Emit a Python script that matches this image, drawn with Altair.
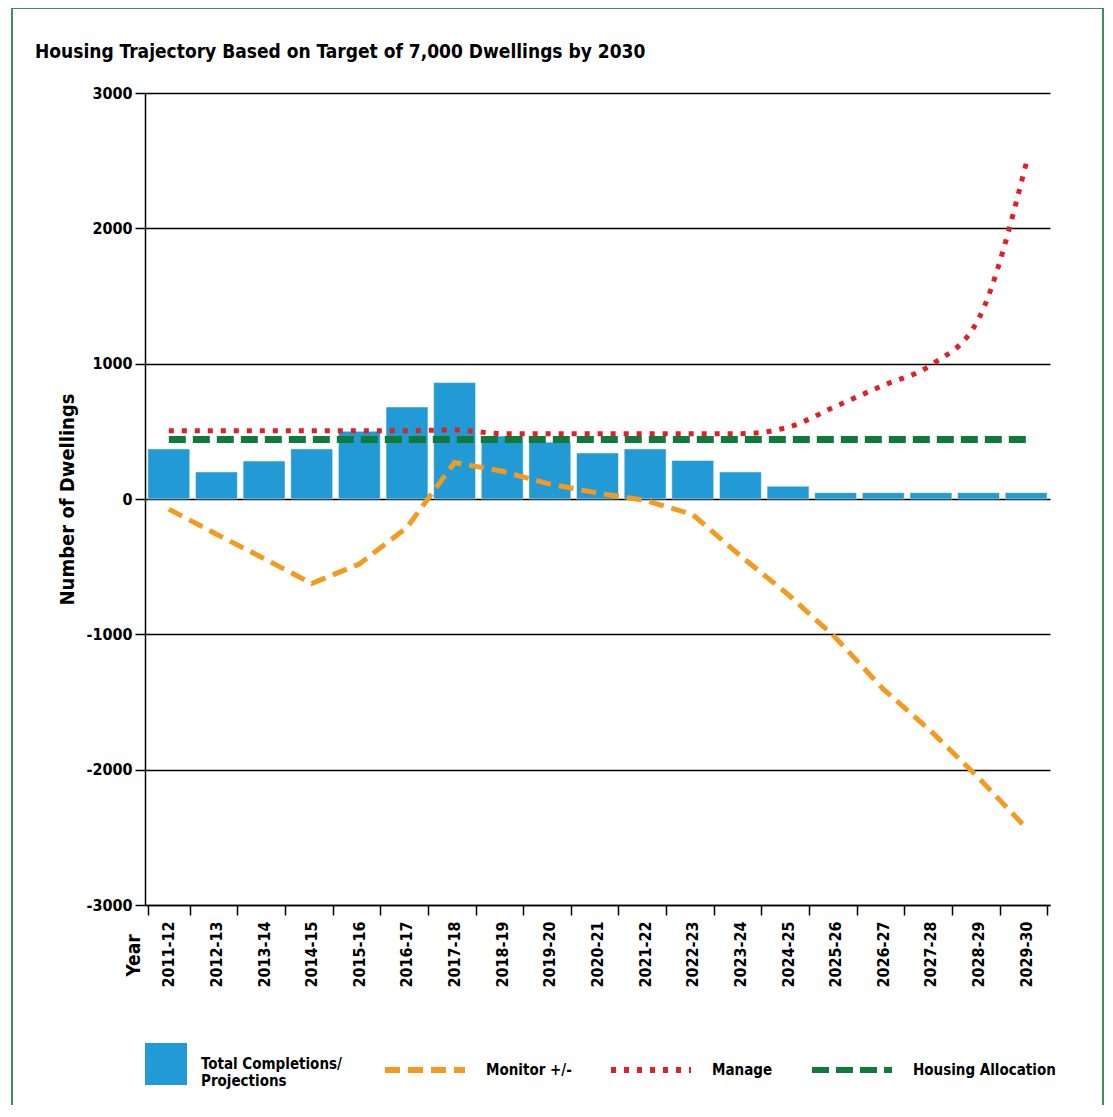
import altair as alt
import pandas as pd

years = ["2011-12", "2012-13", "2013-14", "2014-15", "2015-16", "2016-17", "2017-18",
         "2018-19", "2019-20", "2020-21", "2021-22", "2022-23", "2023-24", "2024-25",
         "2025-26", "2026-27", "2027-28", "2028-29", "2029-30"]
completions = [370, 200, 280, 370, 500, 680, 860, 465, 420, 340, 370, 285, 200, 95,
               47, 47, 47, 47, 47]
monitor = [-75, -260, -440, -625, -480, -210, 270, 205, 110, 45, -10, -115, -420, -705,
           -1025, -1405, -1715, -2060, -2430]
manage = [505, 505, 505, 505, 505, 505, 510, 483, 483, 483, 483, 483, 483, 530,
          685, 840, 990, 1330, 2480]
allocation = [440, 440, 440, 440, 440, 440, 440, 440, 440, 440, 440, 440, 440, 440,
              440, 440, 440, 440, 440]
y_ticks = [-3000, -2000, -1000, 0, 1000, 2000, 3000]

title_text = "Housing Trajectory Based on Target of 7,000 Dwellings by 2030"
bar_label = "Total Completions/|Projections"
series_names = ["Monitor +/-", "Manage", "Housing Allocation"]
series_colors = ["#F39A1F", "#E31E24", "#0E7A3B"]
series_dash = [[15, 8], [5, 8], [17, 7]]

FONT = "DejaVu Sans Condensed, DejaVu Sans, sans-serif"

bars_df = pd.DataFrame({"year": years, "value": completions, "kind": [bar_label] * len(years)})
lines_df = pd.concat([
    pd.DataFrame({"year": years, "value": monitor, "series": series_names[0]}),
    pd.DataFrame({"year": years, "value": manage, "series": series_names[1]}),
    pd.DataFrame({"year": years, "value": allocation, "series": series_names[2]}),
], ignore_index=True)

x_enc = alt.X("year:N", sort=years,
              scale=alt.Scale(paddingInner=0.12, paddingOuter=0.06),
              axis=alt.Axis(orient="bottom", labelAngle=-90, labelAlign="right",
                            labelBaseline="middle", labelFontSize=16, labelFontWeight="bold",
                            labelPadding=6, tickBand="extent", tickSize=10, tickColor="black",
                            tickWidth=1.5, domainColor="black", domainWidth=1.5,
                            title="Year", titleAngle=270, titleFontSize=19,
                            titleFontWeight="bold", titleX=-12, titleY=50,
                            titleAlign="center", titleBaseline="middle"))
y_enc = alt.Y("value:Q",
              scale=alt.Scale(domain=[-3000, 3000], nice=False, zero=False),
              axis=alt.Axis(values=y_ticks, labelExpr="datum.value", grid=True,
                            gridColor="black", gridWidth=1.5, domainColor="black",
                            domainWidth=1.5, tickColor="black", tickWidth=1.5, tickSize=10,
                            labelFontSize=16, labelFontWeight="bold", labelPadding=3,
                            title="Number of Dwellings", titleFontSize=20,
                            titleFontWeight="bold", titlePadding=8))

bars = alt.Chart(bars_df).mark_bar(stroke="white", strokeWidth=0.5).encode(
    x=x_enc,
    y=y_enc,
    fill=alt.Fill("kind:N", scale=alt.Scale(domain=[bar_label], range=["#219AD6"]),
                  legend=alt.Legend(orient="none", legendX=0, legendY=950, title=None,
                                    symbolType="square", symbolSize=1764,
                                    symbolStrokeWidth=0,
                                    labelExpr="split(datum.label, '|')",
                                    labelFontSize=15, labelFontWeight="bold",
                                    labelOffset=14, labelLimit=200)),
)

stroke_enc = alt.Stroke("series:N", scale=alt.Scale(domain=series_names, range=series_colors),
                        legend=alt.Legend(orient="none", legendX=237, legendY=934, title=None,
                                          direction="horizontal", columns=3,
                                          symbolType="stroke", symbolSize=6400,
                                          symbolStrokeWidth=6, labelFontSize=15,
                                          labelFontWeight="bold", labelOffset=18,
                                          columnPadding=27, labelLimit=200))
dash_enc = alt.StrokeDash("series:N", scale=alt.Scale(domain=series_names, range=series_dash),
                          legend=None)


def line_layer(name, width, interp):
    return alt.Chart(lines_df).transform_filter(alt.datum.series == name).mark_line(
        strokeWidth=width, strokeCap="butt", interpolate=interp
    ).encode(x=x_enc, y=y_enc, stroke=stroke_enc, strokeDash=dash_enc)


alloc_line = line_layer("Housing Allocation", 7, "linear")
monitor_line = line_layer("Monitor +/-", 5, "linear")
manage_line = line_layer("Manage", 5, "monotone")

title_mark = alt.Chart(pd.DataFrame({"t": [title_text]})).mark_text(
    align="left", baseline="alphabetic", fontSize=19, fontWeight="bold", font=FONT,
    color="black"
).encode(text="t:N", x=alt.value(-110), y=alt.value(-35))

frame = alt.Chart(pd.DataFrame({"f": [0]})).mark_rect(
    filled=False, stroke="#3F8F5E", strokeWidth=2
).encode(x=alt.value(-133), x2=alt.value(958), y=alt.value(-85), y2=alt.value(1040))

chart = alt.layer(bars, alloc_line, monitor_line, manage_line, title_mark, frame).properties(
    width=905,
    height=812,
    padding={"left": 137, "top": 85, "right": 55, "bottom": 200},
    autosize=alt.AutoSizeParams(type="none"),
).configure(
    font=FONT,
).configure_axis(
    labelFont=FONT, titleFont=FONT, labelColor="black", titleColor="black",
).configure_legend(
    labelFont=FONT, labelColor="black", padding=0,
).configure_view(
    stroke=None,
)

chart.save("out.html", embed_options={"renderer": "svg", "actions": False})
